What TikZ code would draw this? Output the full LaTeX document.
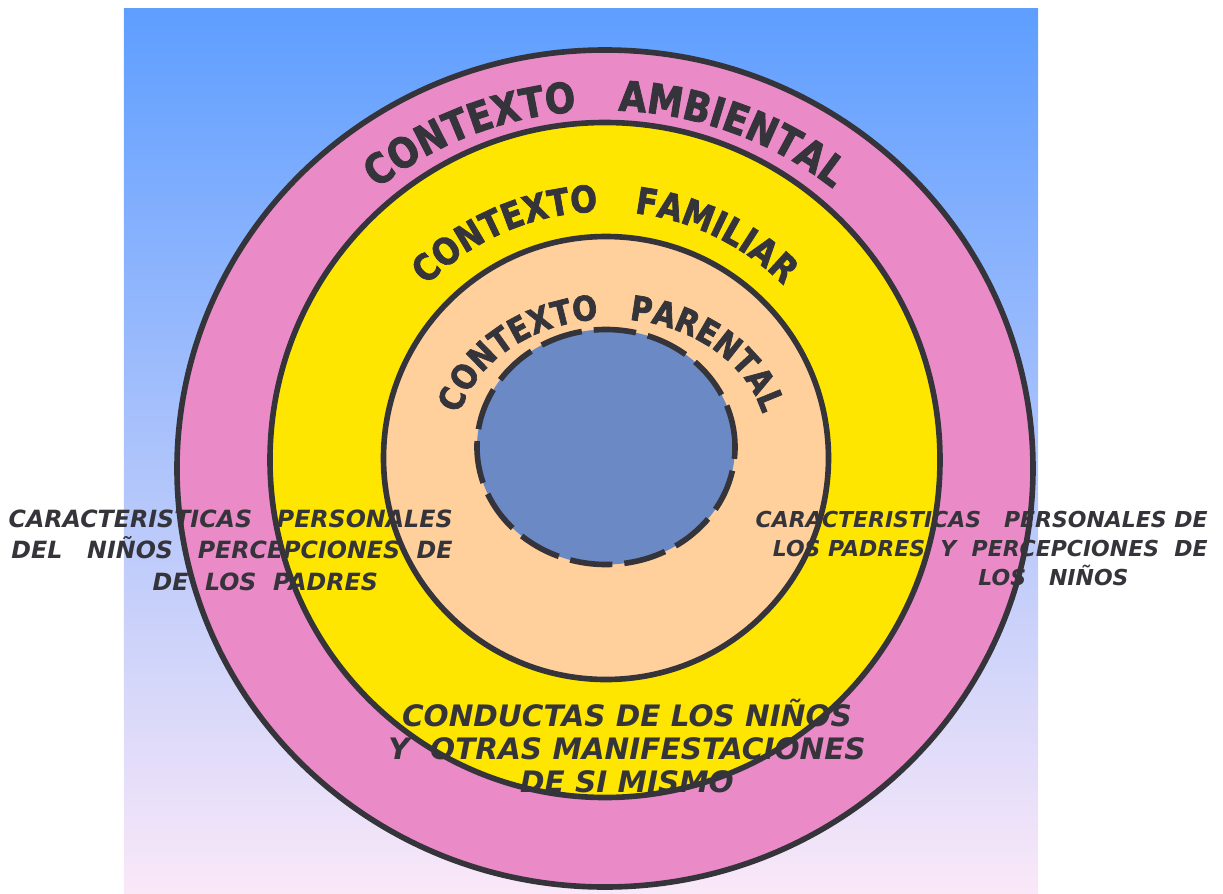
\documentclass[tikz,border=0pt]{standalone}
\usepackage{fontspec}
\usetikzlibrary{decorations.text}

\newfontfamily\ringfont[FakeStretch=0.86, BoldFeatures={FakeBold=2}]{DejaVu Sans}
\newfontfamily\sidefont{DejaVu Sans}

\definecolor{ink}{RGB}{52,52,58}
\definecolor{bgtop}{RGB}{94,158,255}
\definecolor{bgmid}{RGB}{145,192,248}
\definecolor{bgbot}{RGB}{250,232,248}
\definecolor{ambient}{RGB}{234,139,200}
\definecolor{family}{RGB}{255,230,0}
\definecolor{parent}{RGB}{255,208,155}
\definecolor{child}{RGB}{106,137,197}

\newcommand{\outerarc}{\ringfont\bfseries\fontsize{23.6}{25}\selectfont}
\newcommand{\middlearc}{\ringfont\bfseries\fontsize{20.8}{22}\selectfont}
\newcommand{\innerarc}{\ringfont\bfseries\fontsize{19.4}{20}\selectfont}

\tikzset{
  ring/.style={draw=ink, line width=3.2pt},
  ringlabel/.style={decorate, decoration={text along path, text={#1}, text align=center, text color=ink}},
  sidetext/.style={text=ink, inner sep=0pt}
}

\begin{document}
\begin{tikzpicture}
\useasboundingbox (-12.1,-8.66) rectangle (12.36,9.2);

%Background
\shade[top color=bgtop, middle color=bgmid, bottom color=bgbot] (-9.62,-8.66) rectangle (8.66,9.02);

%Rings
\filldraw[ring, fill=ambient] (0,-0.17) ellipse (8.56 and 8.37);
\filldraw[ring, fill=family] (0,0) ellipse (6.70 and 6.75);
\filldraw[ring, fill=parent] (0.02,0.04) ellipse (4.45 and 4.43);
\filldraw[ring, fill=child, dash pattern=on 0.85cm off 0.24cm] (0.02,0.26) ellipse (2.58 and 2.35);

%Ring Labels
\path[ringlabel={|\outerarc|CONTEXTO{\hskip1em}AMBIENTAL}] (-7.3,-0.17) arc[start angle=180, end angle=0, x radius=7.3, y radius=7.16];
\path[ringlabel={|\middlearc|CONTEXTO{\hskip1em}FAMILIAR}] (-5.05,-0.08) arc[start angle=180, end angle=0, radius=5.05];
\path[ringlabel={|\innerarc|CONTEXTO{\hskip0.9em}PARENTAL}] (-3.0,0.32) arc[start angle=180, end angle=0, x radius=3.12, y radius=2.5];

%Side Labels
\node[sidetext, align=right, anchor=east, font=\sidefont\bfseries\itshape\fontsize{13.5}{17.9}\selectfont] (kidtraits) at (-3.04,-1.8)
  {CARACTERISTICAS~~~PERSONALES\\DEL~~~NIÑOS~~~PERCEPCIONES~~DE\\DE~~LOS~~PADRES\hspace*{3.15em}};
\node[sidetext, align=right, anchor=east, font=\sidefont\bfseries\itshape\fontsize{12.5}{16.5}\selectfont] (parenttraits) at (12.06,-1.76)
  {CARACTERISTICAS~~~PERSONALES~DE\\LOS~PADRES~~Y~~PERCEPCIONES~~DE\hspace*{0.35em}\\LOS~~~NIÑOS\hspace*{3.6em}};
\node[sidetext, align=center, font=\sidefont\bfseries\itshape\fontsize{16.8}{18.8}\selectfont] (conduct) at (0.44,-5.72)
  {CONDUCTAS DE LOS NIÑOS\\Y~~OTRAS MANIFESTACIONES\\DE SI MISMO};

\end{tikzpicture}
\end{document}
